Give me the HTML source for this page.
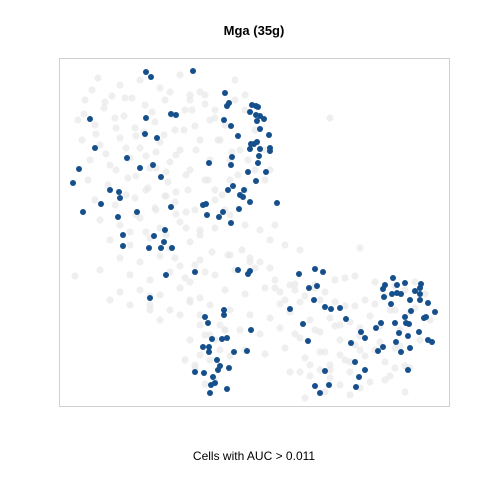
<!DOCTYPE html>
<html><head><meta charset="utf-8"><style>
body{margin:0;background:#fff;width:480px;height:480px;overflow:hidden}
svg{display:block;font-family:"Liberation Sans",sans-serif}
</style></head><body>
<svg id="chart" width="480" height="480">
<rect x="0" y="0" width="480" height="480" fill="#fff"/>
<text x="254" y="35" text-anchor="middle" font-size="13" font-weight="bold">Mga (35g)</text>
<rect x="59.5" y="58.5" width="390" height="348" fill="none" stroke="#d0d0d0" stroke-width="1"/>
<g id="grey"></g>
<g id="blue"></g>
<text x="254" y="460" text-anchor="middle" font-size="12">Cells with AUC &gt; 0.011</text>
</svg>
<script>
const greyX=[98,120,140,160,180,200,85,105,125,145,165,185,205,78,95,115,135,155,175,195,215,82,100,120,140,160,180,200,90,110,130,150,170,190,210,88,108,128,148,168,188,208,95,115,135,155,175,195,100,120,140,160,180,200,110,130,150,170,190,120,140,160,180,200,130,150,170,190,140,160,180,200,150,170,190,160,180,200,190,210,200,220,235,245,190,205,215,225,210,220,235,245,255,265,270,215,225,240,255,265,230,245,260,275,200,215,230,250,175,195,215,235,255,275,295,185,205,225,245,265,285,305,325,345,365,385,405,425,190,210,230,250,270,290,310,330,350,370,390,410,430,200,220,240,260,280,300,320,340,360,380,400,420,205,225,245,265,285,305,325,345,365,385,405,210,230,290,310,330,350,370,390,410,300,320,340,360,385,405,310,330,350,305,325,345,290,280,270,260,250,100,75,130,165,230,330,360,395,120,150,
110,130,150,170,190,92,112,132,152,172,192,84,104,124,144,164,184,96,116,136,156,176,196,106,126,146,166,186,116,136,156,176,126,146,166,186,136,156,176,146,166,186,212,228,242,218,232,248,205,222,238,215,230,245,270,285,300,315,335,355,375,395,415,275,295,315,335,355,375,395,415,280,300,320,340,360,380,400,295,315,335,355,375,395,320,340,360,330,350,195,215,205,225,215,185,195];
const greyY=[78,85,80,88,75,92,100,102,98,105,100,110,104,120,125,118,128,122,130,126,118,140,145,138,148,142,150,140,160,165,158,168,162,170,160,180,185,178,188,182,190,180,200,205,198,208,202,210,220,225,218,228,222,230,240,245,238,248,242,258,262,256,266,260,275,280,272,282,290,295,288,298,305,310,302,320,315,325,340,335,355,350,80,95,100,95,110,125,120,140,100,110,130,150,170,190,210,150,170,180,160,190,230,225,235,228,255,262,258,265,275,270,268,280,284,278,272,290,294,288,300,296,292,306,300,296,290,294,300,305,310,315,318,312,320,318,322,316,310,312,320,315,325,330,334,328,338,332,340,336,342,346,340,335,330,350,354,348,358,352,360,356,362,366,360,356,372,376,378,372,382,376,368,372,370,385,388,380,392,365,370,395,398,392,278,285,292,268,262,258,270,276,232,196,180,118,248,368,292,296,300,305,310,
92,95,90,96,98,112,115,110,114,108,116,132,135,130,134,128,136,152,155,150,154,148,156,172,175,170,176,168,192,195,190,196,212,215,210,214,232,235,228,252,255,250,140,152,160,180,195,175,200,215,225,240,245,250,285,280,276,282,286,282,288,290,288,302,306,304,310,308,304,302,300,325,328,326,330,334,330,326,345,350,348,352,355,350,365,362,368,380,384,330,340,360,365,380,300,290];
const blueX=[146,151,193,225,227,229,252,256,258,250,256,260,264,257,224,231,260,269,238,90,146,171,176,145,157,95,127,140,153,161,79,73,110,119,120,101,83,137,118,171,123,123,154,165,164,161,149,172,166,195,150,251,254,250,257,260,270,270,259,232,231,258,209,248,266,256,233,228,244,240,243,250,277,203,206,239,223,207,219,231,238,250,248,299,315,323,309,317,314,325,331,340,290,346,303,308,361,365,351,355,365,359,356,325,315,329,320,224,224,205,208,251,212,222,227,203,209,209,234,247,217,220,218,229,195,204,213,211,215,227,210,393,385,383,397,405,421,420,415,392,397,401,384,420,410,420,391,428,411,435,405,424,426,381,395,406,409,376,399,419,408,396,428,432,383,378,410,401,408];
const blueY=[72,77,71,93,106,103,105,106,107,112,115,116,119,121,120,126,129,135,136,119,118,114,115,134,138,148,158,168,165,177,169,183,190,192,198,204,212,212,217,207,235,246,236,230,242,248,248,248,275,272,298,144,144,149,142,149,148,151,156,157,165,163,163,172,172,181,186,190,190,195,197,202,203,205,204,209,212,215,217,223,270,271,274,274,269,272,288,286,300,307,309,308,309,319,324,341,332,338,343,362,370,377,387,371,386,385,393,310,315,317,323,330,339,339,338,347,347,352,352,351,360,366,370,368,372,373,377,385,383,389,393,278,285,289,285,283,284,288,291,294,293,294,297,294,300,300,304,303,311,312,317,318,317,323,323,323,324,328,333,332,336,342,340,342,347,351,348,352,370];
const xScale=v=>59+(v-59)*(390/390);
const yScale=v=>58+(v-58)*(348/348);
const NS="http://www.w3.org/2000/svg";
const gG=document.getElementById('grey'),gB=document.getElementById('blue');
for(let i=0;i<greyX.length;i++){
 const c=document.createElementNS(NS,'circle');
 c.setAttribute('cx',xScale(greyX[i]));c.setAttribute('cy',yScale(greyY[i]));
 c.setAttribute('r',3.6);c.setAttribute('fill','#e8e8e8');c.setAttribute('fill-opacity','0.7');
 
 
 gG.appendChild(c);
}
for(let i=0;i<blueX.length;i++){
 const c=document.createElementNS(NS,'circle');
 c.setAttribute('cx',xScale(blueX[i]));c.setAttribute('cy',yScale(blueY[i]));
 c.setAttribute('r',3);c.setAttribute('fill','#15508c');
 
 
 gB.appendChild(c);
}
</script>
</body></html>
